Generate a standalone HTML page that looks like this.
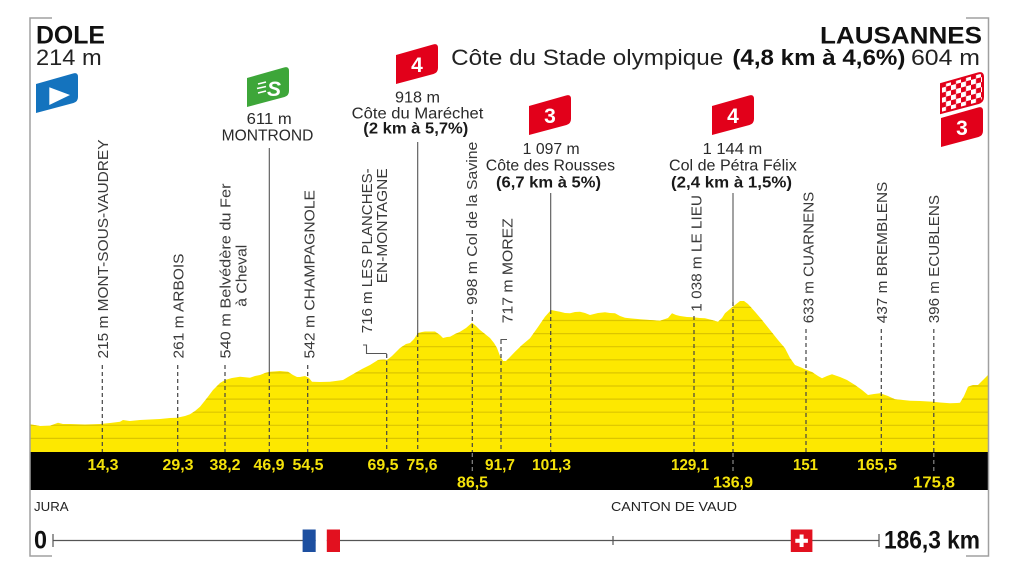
<!DOCTYPE html>
<html>
<head>
<meta charset="utf-8">
<style>
  html,body{margin:0;padding:0;background:#fff;}
  svg{display:block;}
  .r{font-family:"Liberation Sans",sans-serif;font-size:15px;fill:#3a3a3a;}
  .t{font-family:"Liberation Sans",sans-serif;font-size:15.5px;fill:#2a2a2a;}
  .tb{font-family:"Liberation Sans",sans-serif;font-size:15.5px;font-weight:bold;fill:#1a1a1a;}
  .k{font-family:"Liberation Sans",sans-serif;font-size:16px;font-weight:bold;fill:#f4e20a;}
  .fl{font-family:"Liberation Sans",sans-serif;font-size:21px;font-weight:bold;fill:#fff;}
</style>
</head>
<body>
<svg width="1024" height="574" viewBox="0 0 1024 574" xmlns="http://www.w3.org/2000/svg">
  <defs>
    <clipPath id="pc">
      <polygon id="profpts" points="30,424.3 40,426 50,425.7 58,422.7 63,424 70,424 85,424.5 100,424 110,423 120,421.7 123,420 130,421 140,420 150,419.5 160,419 170,418 177,417.7 185,416 190,414.3 195,411 200,406.7 207,398 213,390 220,383 225,380 232,378 240,376.7 250,377.7 255,376 260,375 265,373 270,371.7 280,371 288,371.7 293,375 297,377 300,377 305,376 309,378 312,381.7 320,382 330,381.7 343,380 348,377 355,373 362,369 370,365 378,360 384,359.5 387,360 392,356 400,348 406,344 410,343 414,339 418,333 422,332 425,331.5 435,331.5 440,335 443,338 447,337 450,336.7 455,334 460,331.7 466,328 472,322.7 476,326 480,330 485,334 490,338 494,343 497,348 500,356 503,361 506,361 510,357 515,351.7 522,345 530,338.3 538,327 545,316.7 551,310 556,311 560,311.7 565,313 570,313.3 575,312 580,311.7 585,313 590,315 598,313 605,312.3 610,313 615,313.3 620,316 625,317.7 632,318.5 640,319.3 650,320 660,320.7 668,318 672,313.3 676,315 680,316 687,317 693,317.3 700,318 705,318.3 712,320 718,321.7 722,318 725,313.3 730,309 735,305 740,301 744,301 748,304 755,311.7 762,320 770,330 778,340 785,348.3 790,358 795,365 800,367 805,369.3 812,372 818,376 822,378.3 827,376 832,374.3 840,377 847,380 855,385 862,390 868,395 874,394 880,393.3 888,396 895,399.3 903,400 910,400.7 920,401 933,401.7 940,402.5 950,403.3 957,403 960,402.7 964,396 968,386.7 973,385 978,385 983,380 988,375 988,452 30,452"/>
    </clipPath>
    <pattern id="chk" width="10" height="10" patternUnits="userSpaceOnUse" patternTransform="skewY(-15)">
      <rect width="10" height="10" fill="#fff"/>
      <rect x="0" y="0" width="5" height="5" fill="#e2001a"/>
      <rect x="5" y="5" width="5" height="5" fill="#e2001a"/>
    </pattern>
    <path id="flag" d="M0,11 L37,0.5 Q42,-1 42,4 L42,24 Q42,28.5 37.5,30 L0,40 Z"/>
  </defs>

  <rect width="1024" height="574" fill="#fff"/>

  <!-- Profile -->
  <polygon points="30,424.3 40,426 50,425.7 58,422.7 63,424 70,424 85,424.5 100,424 110,423 120,421.7 123,420 130,421 140,420 150,419.5 160,419 170,418 177,417.7 185,416 190,414.3 195,411 200,406.7 207,398 213,390 220,383 225,380 232,378 240,376.7 250,377.7 255,376 260,375 265,373 270,371.7 280,371 288,371.7 293,375 297,377 300,377 305,376 309,378 312,381.7 320,382 330,381.7 343,380 348,377 355,373 362,369 370,365 378,360 384,359.5 387,360 392,356 400,348 406,344 410,343 414,339 418,333 422,332 425,331.5 435,331.5 440,335 443,338 447,337 450,336.7 455,334 460,331.7 466,328 472,322.7 476,326 480,330 485,334 490,338 494,343 497,348 500,356 503,361 506,361 510,357 515,351.7 522,345 530,338.3 538,327 545,316.7 551,310 556,311 560,311.7 565,313 570,313.3 575,312 580,311.7 585,313 590,315 598,313 605,312.3 610,313 615,313.3 620,316 625,317.7 632,318.5 640,319.3 650,320 660,320.7 668,318 672,313.3 676,315 680,316 687,317 693,317.3 700,318 705,318.3 712,320 718,321.7 722,318 725,313.3 730,309 735,305 740,301 744,301 748,304 755,311.7 762,320 770,330 778,340 785,348.3 790,358 795,365 800,367 805,369.3 812,372 818,376 822,378.3 827,376 832,374.3 840,377 847,380 855,385 862,390 868,395 874,394 880,393.3 888,396 895,399.3 903,400 910,400.7 920,401 933,401.7 940,402.5 950,403.3 957,403 960,402.7 964,396 968,386.7 973,385 978,385 983,380 988,375 988,452 30,452" fill="#fde800"/>
  <g clip-path="url(#pc)" stroke="#dcc500" stroke-width="1.2">
    <line x1="30" x2="988" y1="438.4" y2="438.4"/>
    <line x1="30" x2="988" y1="425.3" y2="425.3"/>
    <line x1="30" x2="988" y1="412.2" y2="412.2"/>
    <line x1="30" x2="988" y1="399.1" y2="399.1"/>
    <line x1="30" x2="988" y1="386" y2="386"/>
    <line x1="30" x2="988" y1="372.9" y2="372.9"/>
    <line x1="30" x2="988" y1="359.8" y2="359.8"/>
    <line x1="30" x2="988" y1="346.7" y2="346.7"/>
    <line x1="30" x2="988" y1="333.6" y2="333.6"/>
    <line x1="30" x2="988" y1="320.5" y2="320.5"/>
    <line x1="30" x2="988" y1="307.4" y2="307.4"/>
  </g>

  <!-- Black bar -->
  <rect x="30" y="452" width="958.5" height="38" fill="#000"/>

  <!-- Dashed lines -->
  <g stroke="#444" stroke-width="1.2" stroke-dasharray="4 3" fill="none">
    <line x1="102.3" x2="102.3" y1="365" y2="452"/>
    <line x1="177.7" x2="177.7" y1="365" y2="452"/>
    <line x1="225" x2="225" y1="365" y2="452"/>
    <line x1="269.3" x2="269.3" y1="372" y2="452"/>
    <line x1="307.7" x2="307.7" y1="365" y2="452"/>
    <line x1="386.7" x2="386.7" y1="354" y2="452"/>
    <line x1="417.7" x2="417.7" y1="333" y2="452"/>
    <line x1="472.3" x2="472.3" y1="310" y2="452"/>
    <line x1="501" x2="501" y1="340" y2="452"/>
    <line x1="550.7" x2="550.7" y1="310" y2="452"/>
    <line x1="694" x2="694" y1="316" y2="452"/>
    <line x1="733" x2="733" y1="302" y2="452"/>
    <line x1="806" x2="806" y1="329" y2="452"/>
    <line x1="881.3" x2="881.3" y1="329" y2="452"/>
    <line x1="933.8" x2="933.8" y1="329" y2="452"/>
  </g>
  <g stroke="#888" stroke-width="1.2" stroke-dasharray="4 3" fill="none">
    <line x1="472.3" x2="472.3" y1="453" y2="474"/>
    <line x1="733" x2="733" y1="453" y2="474"/>
    <line x1="933.8" x2="933.8" y1="453" y2="474"/>
  </g>
  <!-- Solid climb / sprint lines and brackets -->
  <g stroke="#555" stroke-width="1.1" fill="none">
    <line x1="269.3" x2="269.3" y1="148" y2="372"/>
    <line x1="417.7" x2="417.7" y1="142" y2="333"/>
    <line x1="550.7" x2="550.7" y1="193" y2="310"/>
    <line x1="733" x2="733" y1="193" y2="302"/>
    <polyline points="363,345 366.5,345 366.5,353.5 386.7,353.5"/>
    <polyline points="507,339.5 501,339.5 501,344"/>
  </g>

  <!-- Black bar km labels -->
  <g class="k">
    <text x="87.5" y="470" textLength="31" lengthAdjust="spacingAndGlyphs">14,3</text>
    <text x="162.5" y="470" textLength="31" lengthAdjust="spacingAndGlyphs">29,3</text>
    <text x="209.5" y="470" textLength="31" lengthAdjust="spacingAndGlyphs">38,2</text>
    <text x="253.5" y="470" textLength="31" lengthAdjust="spacingAndGlyphs">46,9</text>
    <text x="292.5" y="470" textLength="31" lengthAdjust="spacingAndGlyphs">54,5</text>
    <text x="367.5" y="470" textLength="31" lengthAdjust="spacingAndGlyphs">69,5</text>
    <text x="406.5" y="470" textLength="31" lengthAdjust="spacingAndGlyphs">75,6</text>
    <text x="485" y="470" textLength="30" lengthAdjust="spacingAndGlyphs">91,7</text>
    <text x="532" y="470" textLength="39" lengthAdjust="spacingAndGlyphs">101,3</text>
    <text x="671" y="470" textLength="38" lengthAdjust="spacingAndGlyphs">129,1</text>
    <text x="793" y="470" textLength="25" lengthAdjust="spacingAndGlyphs">151</text>
    <text x="857" y="470" textLength="40" lengthAdjust="spacingAndGlyphs">165,5</text>
    <text x="457" y="487.5" textLength="31" lengthAdjust="spacingAndGlyphs">86,5</text>
    <text x="713" y="487.5" textLength="40" lengthAdjust="spacingAndGlyphs">136,9</text>
    <text x="913" y="487.5" textLength="42" lengthAdjust="spacingAndGlyphs">175,8</text>
  </g>

  <!-- Rotated labels -->
  <g class="r">
    <text transform="translate(107.8,358.5) rotate(-90)" textLength="219" lengthAdjust="spacingAndGlyphs">215 m MONT-SOUS-VAUDREY</text>
    <text transform="translate(183.6,358.5) rotate(-90)" textLength="105" lengthAdjust="spacingAndGlyphs">261 m ARBOIS</text>
    <text transform="translate(230.3,358.5) rotate(-90)" textLength="175" lengthAdjust="spacingAndGlyphs">540 m Belvédère du Fer</text>
    <text transform="translate(246.3,306.7) rotate(-90)" textLength="62" lengthAdjust="spacingAndGlyphs">à Cheval</text>
    <text transform="translate(314.3,358.5) rotate(-90)" textLength="168.5" lengthAdjust="spacingAndGlyphs">542 m CHAMPAGNOLE</text>
    <text transform="translate(372,333.3) rotate(-90)" textLength="165" lengthAdjust="spacingAndGlyphs">716 m LES PLANCHES-</text>
    <text transform="translate(387,283.3) rotate(-90)" textLength="115" lengthAdjust="spacingAndGlyphs">EN-MONTAGNE</text>
    <text transform="translate(476.8,305) rotate(-90)" textLength="163.3" lengthAdjust="spacingAndGlyphs">998 m Col de la Savine</text>
    <text transform="translate(512.3,323.3) rotate(-90)" textLength="105" lengthAdjust="spacingAndGlyphs">717 m MOREZ</text>
    <text transform="translate(701.3,311.7) rotate(-90)" textLength="116.7" lengthAdjust="spacingAndGlyphs">1 038 m LE LIEU</text>
    <text transform="translate(813.3,323.3) rotate(-90)" textLength="131.6" lengthAdjust="spacingAndGlyphs">633 m CUARNENS</text>
    <text transform="translate(886.8,323.3) rotate(-90)" textLength="141.6" lengthAdjust="spacingAndGlyphs">437 m BREMBLENS</text>
    <text transform="translate(938.8,323.3) rotate(-90)" textLength="128.3" lengthAdjust="spacingAndGlyphs">396 m ECUBLENS</text>
  </g>

  <!-- Top climb labels -->
  <text class="t" x="246.7" y="124" textLength="45" lengthAdjust="spacingAndGlyphs">611 m</text>
  <text class="t" x="221.7" y="140.7" textLength="91.7" lengthAdjust="spacingAndGlyphs">MONTROND</text>

  <text class="t" x="395" y="102.7" textLength="45" lengthAdjust="spacingAndGlyphs">918 m</text>
  <text class="t" x="351.7" y="118.5" textLength="131.7" lengthAdjust="spacingAndGlyphs">Côte du Maréchet</text>
  <text class="tb" x="363.3" y="133.5" textLength="105" lengthAdjust="spacingAndGlyphs">(2 km à 5,7%)</text>

  <text class="t" x="522.7" y="154" textLength="57" lengthAdjust="spacingAndGlyphs">1 097 m</text>
  <text class="t" x="485.8" y="170.7" textLength="129.2" lengthAdjust="spacingAndGlyphs">Côte des Rousses</text>
  <text class="tb" x="496" y="187.3" textLength="105" lengthAdjust="spacingAndGlyphs">(6,7 km à 5%)</text>

  <text class="t" x="702.6" y="154" textLength="59.6" lengthAdjust="spacingAndGlyphs">1 144 m</text>
  <text class="t" x="669" y="170.7" textLength="127.8" lengthAdjust="spacingAndGlyphs">Col de Pétra Félix</text>
  <text class="tb" x="671" y="187.3" textLength="121" lengthAdjust="spacingAndGlyphs">(2,4 km à 1,5%)</text>

  <!-- Header -->
  <text x="36" y="43.3" font-family="Liberation Sans, sans-serif" font-size="25" font-weight="bold" fill="#111" textLength="69" lengthAdjust="spacingAndGlyphs">DOLE</text>
  <text x="36" y="65" font-family="Liberation Sans, sans-serif" font-size="22" fill="#222" textLength="65.7" lengthAdjust="spacingAndGlyphs">214 m</text>
  <text x="820" y="43.3" font-family="Liberation Sans, sans-serif" font-size="24" font-weight="bold" fill="#111" textLength="162" lengthAdjust="spacingAndGlyphs">LAUSANNES</text>
  <text x="451.2" y="65" font-family="Liberation Sans, sans-serif" font-size="22" fill="#222" textLength="272" lengthAdjust="spacingAndGlyphs">Côte du Stade olympique</text>
  <text x="732.4" y="65" font-family="Liberation Sans, sans-serif" font-size="22" font-weight="bold" fill="#111" textLength="173" lengthAdjust="spacingAndGlyphs">(4,8 km à 4,6%)</text>
  <text x="911" y="65" font-family="Liberation Sans, sans-serif" font-size="22" fill="#222" textLength="69" lengthAdjust="spacingAndGlyphs">604 m</text>

  <!-- Flags -->
  <g transform="translate(36,73)">
    <use href="#flag" fill="#1473be"/>
    <polygon points="13.3,14.3 34,22 13.3,32" fill="#fff"/>
  </g>
  <g transform="translate(247,67)">
    <use href="#flag" fill="#3da639"/>
    <g stroke="#fff" stroke-width="1.6">
      <line x1="11" x2="19" y1="17" y2="15"/>
      <line x1="10" x2="19" y1="21.5" y2="19.5"/>
      <line x1="11" x2="19" y1="26" y2="24"/>
    </g>
    <text x="20" y="29" class="fl" font-style="italic" font-size="20">S</text>
  </g>
  <g transform="translate(396,44)">
    <use href="#flag" fill="#e2001a"/>
    <text x="21" y="28" class="fl" text-anchor="middle">4</text>
  </g>
  <g transform="translate(529,95)">
    <use href="#flag" fill="#e2001a"/>
    <text x="21" y="28" class="fl" text-anchor="middle">3</text>
  </g>
  <g transform="translate(712,95)">
    <use href="#flag" fill="#e2001a"/>
    <text x="21" y="28" class="fl" text-anchor="middle">4</text>
  </g>
  <g transform="translate(941,73)">
    <use href="#flag" fill="url(#chk)" stroke="#e2001a" stroke-width="2"/>
  </g>
  <g transform="translate(941,107)">
    <use href="#flag" fill="#e2001a"/>
    <text x="21" y="28" class="fl" text-anchor="middle">3</text>
  </g>

  <!-- Frame -->
  <g stroke="#a0a0a0" stroke-width="1.5" fill="none">
    <polyline points="52,18 30,18 30,556 52,556"/>
    <polyline points="966,18 988.5,18 988.5,556 966,556"/>
  </g>

  <!-- Bottom -->
  <text x="34" y="511" font-family="Liberation Sans, sans-serif" font-size="13" fill="#222" textLength="34.6" lengthAdjust="spacingAndGlyphs">JURA</text>
  <text x="611" y="511" font-family="Liberation Sans, sans-serif" font-size="13" fill="#222" textLength="126" lengthAdjust="spacingAndGlyphs">CANTON DE VAUD</text>

  <g stroke="#555" stroke-width="1.2">
    <line x1="53" x2="879" y1="540.5" y2="540.5"/>
    <line x1="53" x2="53" y1="534" y2="547"/>
    <line x1="879" x2="879" y1="534" y2="547"/>
    <line x1="613" x2="613" y1="536" y2="545"/>
  </g>
  <rect x="302.6" y="529.5" width="13.2" height="22.5" fill="#1d4fa0"/>
  <rect x="315.8" y="529.5" width="11" height="22.5" fill="#fff"/>
  <rect x="326.8" y="529.5" width="13.2" height="22.5" fill="#e2111f"/>
  <rect x="790.8" y="529.5" width="21.6" height="22.5" fill="#e2111f"/>
  <rect x="799.6" y="534.5" width="4" height="12.5" fill="#fff"/>
  <rect x="795.3" y="538.8" width="12.6" height="4" fill="#fff"/>

  <text x="34" y="548.5" font-family="Liberation Sans, sans-serif" font-size="25" font-weight="bold" fill="#111" textLength="13" lengthAdjust="spacingAndGlyphs">0</text>
  <text x="884" y="548.5" font-family="Liberation Sans, sans-serif" font-size="25" font-weight="bold" fill="#111" textLength="96" lengthAdjust="spacingAndGlyphs">186,3 km</text>
</svg>
</body>
</html>
